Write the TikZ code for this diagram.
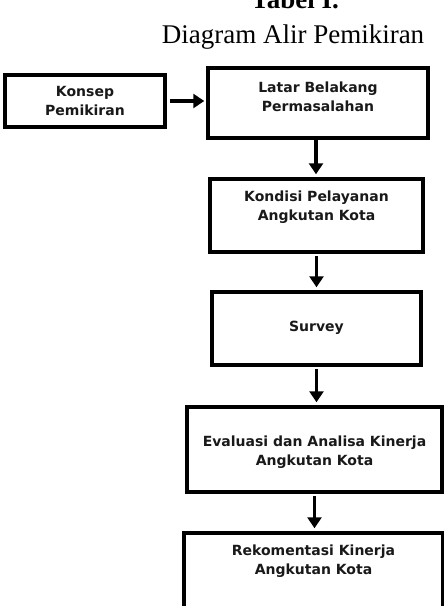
\documentclass[tikz,border=0pt]{standalone}
\usepackage{fontspec}
\setmainfont{Liberation Serif}
\newfontfamily\boxfont{DejaVu Sans}
\usetikzlibrary{arrows.meta}
\tikzset{
  flowbox/.style={draw=black, line width=3.5pt, fill=white, inner sep=0pt},
  boxtext/.style={font=\boxfont\bfseries\fontsize{14}{19}\selectfont, align=center, inner sep=0pt, text=black!90},
  flowarrow/.style={line width=3.5pt, -{Triangle[width=14pt,length=11pt]}},
}
\begin{document}
\begin{tikzpicture}[x=1pt,y=-1pt]
\useasboundingbox (0,0) rectangle (444,606);
\clip (0,0) rectangle (444,606);
\node[font=\bfseries\fontsize{27}{30}\selectfont, anchor=base] (ttl) at (295,8) {Tabel I.};
\node[font=\fontsize{27}{30}\selectfont, anchor=base] (sub) at (293,43) {Diagram Alir Pemikiran};

\node[flowbox, minimum width=160pt, minimum height=52pt] (konsep) at (85,101) {};
\node[flowbox, minimum width=220pt, minimum height=70pt] (latar) at (318,103) {};
\node[flowbox, minimum width=213pt, minimum height=73pt] (kondisi) at (316.5,215.5) {};
\node[flowbox, minimum width=209pt, minimum height=73pt] (survey) at (316.5,328.5) {};
\node[flowbox, minimum width=255pt, minimum height=85pt] (evaluasi) at (314.5,449.5) {};
\node[flowbox, minimum width=259pt, minimum height=120pt] (rekom) at (313.5,593) {};

\node[boxtext] (tkonsep) at (85,101) {Konsep\\Pemikiran};
\node[boxtext] (tlatar) at (318,97) {Latar Belakang\\Permasalahan};
\node[boxtext] (tkondisi) at (316.5,207) {Kondisi Pelayanan\\Angkutan Kota};
\node[boxtext] (tsurvey) at (316.5,328) {Survey};
\node[boxtext] (tevaluasi) at (314.5,452) {Evaluasi dan Analisa Kinerja\\Angkutan Kota};
\node[boxtext] (trekom) at (313.5,561) {Rekomentasi Kinerja\\Angkutan Kota};

\draw[flowarrow, shorten <=3pt, shorten >=2pt] (konsep.east) -- (konsep.east -| latar.west);
\draw[flowarrow, shorten <=2pt, shorten >=3pt] (316,138) coordinate (a1) -- (a1 |- kondisi.north);
\draw[flowarrow, shorten <=2pt, shorten >=3pt] (kondisi.south) -- (kondisi.south |- survey.north);
\draw[flowarrow, shorten <=2pt, shorten >=3pt] (survey.south) -- (survey.south |- evaluasi.north);
\draw[flowarrow, shorten <=2pt, shorten >=3pt] (evaluasi.south) -- (evaluasi.south |- rekom.north);
\end{tikzpicture}
\end{document}
